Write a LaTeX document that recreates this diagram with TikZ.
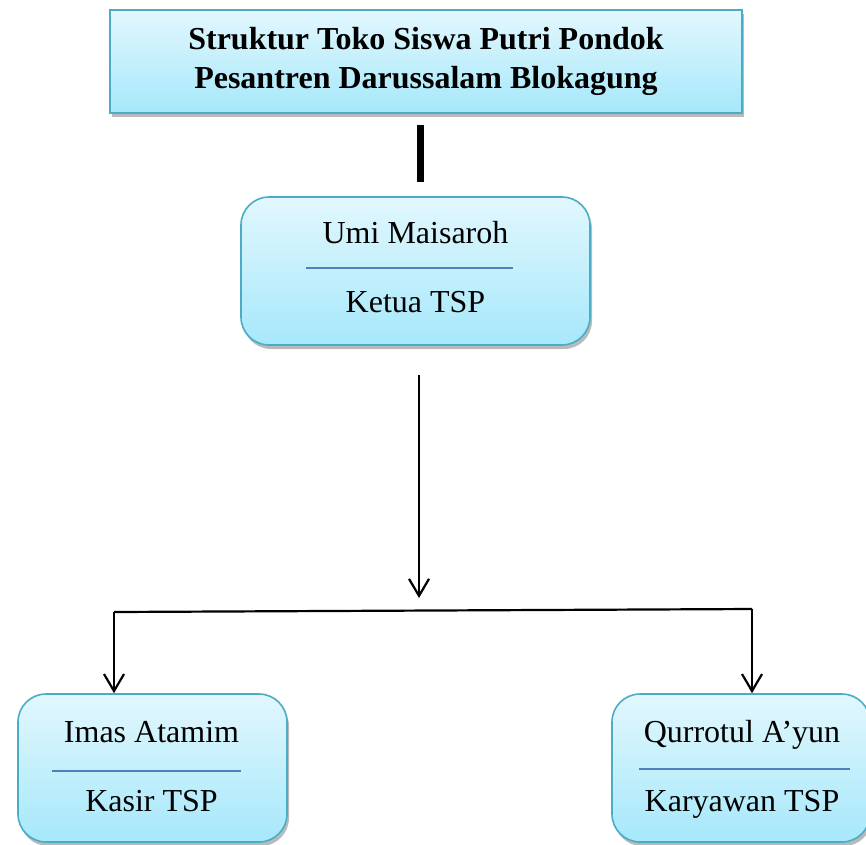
\documentclass[tikz,border=0pt]{standalone}
\usepackage{fontspec}
\setmainfont{Liberation Serif}
\usetikzlibrary{arrows.meta,shadows}
\definecolor{boxborder}{HTML}{4BACC6}
\definecolor{boxtop}{HTML}{E2F7FD}
\definecolor{boxbot}{HTML}{A6E8FB}
\definecolor{sepline}{HTML}{4F7FC0}
\tikzset{
  boxstyle/.style={draw=boxborder, line width=1.6pt, top color=boxtop, bottom color=boxbot,
    drop shadow={shadow xshift=2pt, shadow yshift=-4pt, opacity=0.45, fill=black!60}},
  titlebox/.style={boxstyle, rectangle, minimum width=632pt, minimum height=103pt,
    font=\fontsize{32}{39}\selectfont\bfseries, align=center, inner sep=0pt},
  personbox/.style={boxstyle, rectangle, rounded corners=28pt, inner sep=0pt},
  txt/.style={font=\fontsize{32}{36}\selectfont, inner sep=0pt, anchor=base},
  sep/.style={draw=sepline, line width=1.3pt},
  conn/.style={line width=2.2pt, -{Straight Barb[length=17pt,width=20pt,line width=2.2pt]}},
  plainconn/.style={line width=2.2pt}
}
\begin{document}
\begin{tikzpicture}[x=1pt,y=-1pt]
\useasboundingbox (0,0) rectangle (866,844);
% title
\node[titlebox] (title) at (426,61.5) {Struktur Toko Siswa Putri Pondok\\Pesantren Darussalam Blokagung};
% thick bar
\coordinate (t1) at (420,125);
\coordinate (t2) at (420,182);
\draw[line width=7pt] (t1) -- (t2);
% Umi box
\node[personbox, minimum width=349pt, minimum height=148pt] (umi) at (415.5,271) {};
\node[txt] (uminame) at (415.5,243) {Umi Maisaroh};
\node[txt] (umirole) at (415.5,312) {Ketua TSP};
\draw[sep] (306,268) -- (513,268);
% left box
\node[personbox, minimum width=269pt, minimum height=148pt] (imas) at (152.5,768) {};
\node[txt] (imasname) at (151.5,742) {Imas Atamim};
\node[txt] (imasrole) at (151.5,811) {Kasir TSP};
\draw[sep] (52,771) -- (241,771);
% right box
\node[personbox, minimum width=258pt, minimum height=148pt] (qur) at (741,768) {};
\node[txt] (qurname) at (742,742) {Qurrotul A’yun};
\node[txt] (qurrole) at (742,811) {Karyawan TSP};
\draw[sep] (639,769) -- (850,769);
% connectors
\coordinate (a1) at (419,375);
\coordinate (a2) at (419,598);
\draw[conn] (a1) -- (a2);
\coordinate (hl) at (114,612);
\coordinate (hr) at (752,609);
\draw[plainconn] (hl) -- (hr);
\draw[conn] (hl) -- (imas.north -| hl);
\draw[conn] (hr) -- (qur.north -| hr);
\end{tikzpicture}
\end{document}
